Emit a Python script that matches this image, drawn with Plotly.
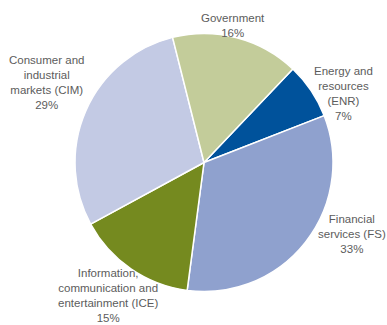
import plotly.graph_objects as go

# Revenue share by sector (percent), listed clockwise from the top-right slice
sectors = ["Energy and resources (ENR)", "Financial services (FS)",
           "Information, communication and entertainment (ICE)",
           "Consumer and industrial markets (CIM)", "Government"]
shares = [7, 33, 15, 29, 16]
colors = ["#00529B", "#8FA1CE", "#758A1F", "#C3CAE4", "#C3CC9A"]

# Outside labels: text lines and their anchor points (paper coordinates)
label_lines = [
    ["Energy and", "resources", "(ENR)", "7%"],
    ["Financial", "services (FS)", "33%"],
    ["Information,", "communication and", "entertainment (ICE)", "15%"],
    ["Consumer and", "industrial", "markets (CIM)", "29%"],
    ["Government", "16%"],
]
label_x = [343 / 387, 352 / 387, 108 / 387, 46 / 387, 233 / 387]
label_y = [1 - 94 / 325, 1 - 234 / 325, 1 - 295 / 325, 1 - 83 / 325, 1 - 26 / 325]

fig = go.Figure(go.Pie(
    labels=sectors,
    values=shares,
    sort=False,
    direction="clockwise",
    rotation=43.5,
    marker=dict(colors=colors, line=dict(color="white", width=1.5)),
    textinfo="none",
    hoverinfo="label+percent",
    domain=dict(x=[75 / 387, 333 / 387], y=[33 / 325, 292 / 325]),
    showlegend=False,
))

for lines, x, y in zip(label_lines, label_x, label_y):
    fig.add_annotation(
        x=x, y=y, xref="paper", yref="paper",
        text="<br>".join(lines), showarrow=False,
        xanchor="center", yanchor="middle", align="center",
        font=dict(family="Liberation Sans, Arial, sans-serif", size=11.5, color="#5c5c5c"),
    )

fig.update_layout(
    width=387, height=325,
    margin=dict(l=0, r=0, t=0, b=0),
    paper_bgcolor="white", plot_bgcolor="white",
)

fig.write_html("out.html")
